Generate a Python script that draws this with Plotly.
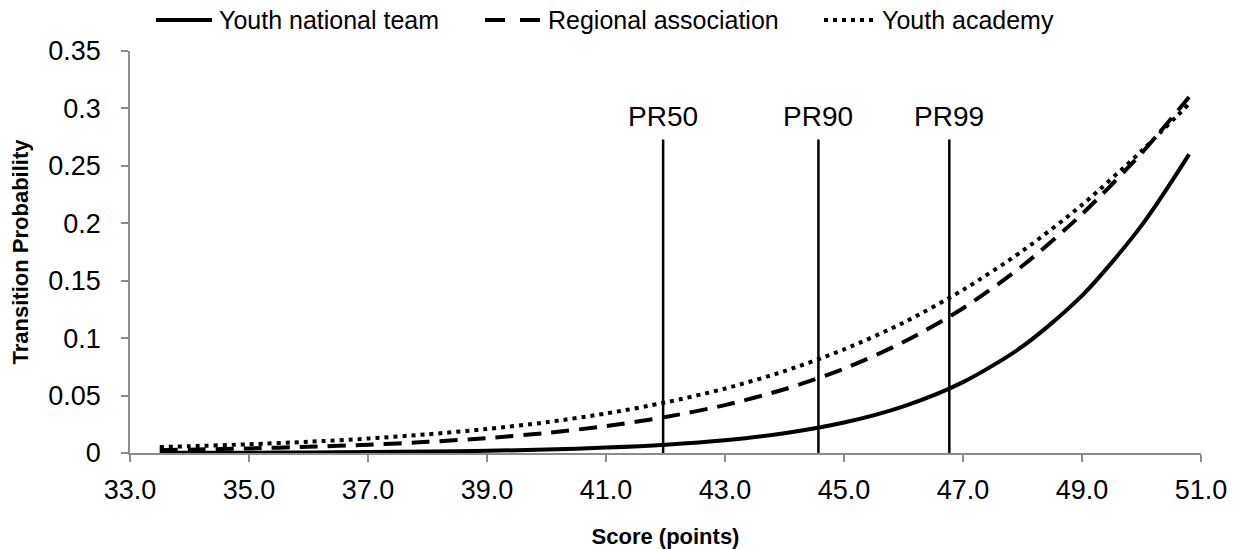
import plotly.graph_objects as go

# Scores (x) at which curve values were read
score = [33.5, 34, 35, 36, 37, 38, 39, 40, 41, 42, 43, 44, 45, 46, 47, 48, 49, 50, 50.8]

youth_national_team = [0.0002, 0.0002, 0.0003, 0.0005, 0.0008, 0.0012, 0.0019, 0.0030, 0.0047,
                       0.0072, 0.0111, 0.0172, 0.0265, 0.0406, 0.0617, 0.0928, 0.137, 0.198, 0.260]
regional_association = [0.0025, 0.0029, 0.0040, 0.0054, 0.0072, 0.0097, 0.0130, 0.0175, 0.0234,
                        0.0313, 0.0417, 0.0555, 0.0734, 0.0966, 0.126, 0.163, 0.208, 0.261, 0.310]
youth_academy = [0.0052, 0.0059, 0.0076, 0.0098, 0.0126, 0.0163, 0.0209, 0.0268, 0.0344,
                 0.0440, 0.0561, 0.0713, 0.0902, 0.1135, 0.142, 0.176, 0.216, 0.263, 0.304]

series_names = ["Youth national team", "Regional association", "Youth academy"]

pr_labels = ["PR50", "PR90", "PR99"]
pr_x = [41.96, 44.57, 46.77]
pr_top = 0.273

x_ticks = [33.0, 35.0, 37.0, 39.0, 41.0, 43.0, 45.0, 47.0, 49.0, 51.0]
y_ticks = [0, 0.05, 0.1, 0.15, 0.2, 0.25, 0.3, 0.35]
y_tick_text = ["0", "0.05", "0.1", "0.15", "0.2", "0.25", "0.3", "0.35"]

FONT = "Liberation Sans, Arial, sans-serif"
W, H = 1239, 549
ML, MR, MT, MB = 130, 38, 51, 96
PW, PH = W - ML - MR, H - MT - MB

def px_to_paper_x(px):
    return (px - ML) / PW

def px_to_paper_y(py):
    return (H - MB - py) / PH

fig = go.Figure()
styles = [
    dict(color="black", width=4, dash="solid"),
    dict(color="black", width=4, dash="18px,10px"),
    dict(color="black", width=4, dash="4px,5px"),
]
legend_dash = ["solid", "20px,15px", "4px,5px"]
for name, ys, st in zip(series_names, [youth_national_team, regional_association, youth_academy], styles):
    fig.add_trace(go.Scatter(x=score, y=ys, mode="lines", name=name, showlegend=False,
                             line=dict(shape="spline", smoothing=0.8, **st)))

for lab, xv in zip(pr_labels, pr_x):
    fig.add_shape(type="line", xref="x", yref="y", x0=xv, x1=xv, y0=0, y1=pr_top,
                  line=dict(color="black", width=2.5))
    fig.add_annotation(x=xv, y=pr_top, xref="x", yref="y", text=lab, showarrow=False,
                       yanchor="bottom", yshift=5, font=dict(family=FONT, size=28, color="black"))

# Legend drawn as a row above the plot (sample line + label)
legend_rows = [(156, 212, 217), (485, 540, 546), (824, 875, 880)]
legend_y = 20
for (x0, x1, xt), name, dsh in zip(legend_rows, series_names, legend_dash):
    fig.add_shape(type="line", xref="paper", yref="paper",
                  x0=px_to_paper_x(x0), x1=px_to_paper_x(x1),
                  y0=px_to_paper_y(legend_y), y1=px_to_paper_y(legend_y),
                  line=dict(color="black", width=4, dash=dsh))
    fig.add_annotation(x=px_to_paper_x(xt), y=px_to_paper_y(legend_y), xref="paper", yref="paper",
                       text=name, showarrow=False, xanchor="left", yanchor="middle",
                       font=dict(family=FONT, size=25, color="black"))

fig.update_layout(
    width=W, height=H,
    margin=dict(l=ML, r=MR, t=MT, b=MB, autoexpand=False),
    plot_bgcolor="white", paper_bgcolor="white",
    font=dict(family=FONT, color="black"),
    showlegend=False,
    xaxis=dict(range=[33, 51], tickvals=x_ticks, ticktext=[f"{v:.1f}" for v in x_ticks],
               showgrid=False, zeroline=False, showline=True, linecolor="#8c8c8c", linewidth=1.5,
               ticks="outside", ticklen=7, tickcolor="#8c8c8c", tickwidth=1.5,
               tickfont=dict(family=FONT, size=27), ticklabelstandoff=5,
               title=dict(text="<b>Score (points)</b>", font=dict(family=FONT, size=22), standoff=24)),
    yaxis=dict(range=[0, 0.35], tickvals=y_ticks, ticktext=y_tick_text,
               showgrid=False, zeroline=False, showline=True, linecolor="#8c8c8c", linewidth=1.5,
               ticks="outside", ticklen=7, tickcolor="#8c8c8c", tickwidth=1.5,
               tickfont=dict(family=FONT, size=27), ticklabelstandoff=15,
               title=dict(text="<b>Transition Probability</b>", font=dict(family=FONT, size=22), standoff=14)),
)

fig.write_html("out.html")
